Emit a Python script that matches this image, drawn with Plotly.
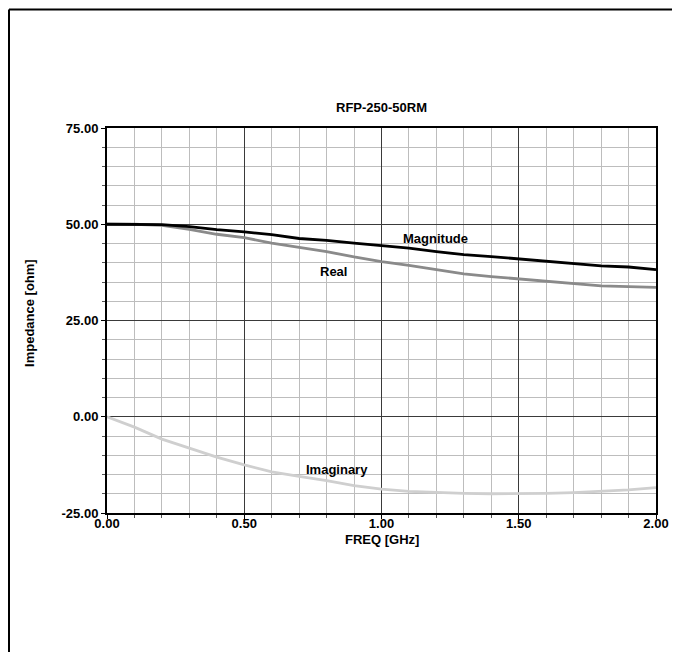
import plotly.graph_objects as go

freq_ghz = [0.0, 0.1, 0.2, 0.3, 0.4, 0.5, 0.6, 0.7, 0.8, 0.9, 1.0,
            1.1, 1.2, 1.3, 1.4, 1.5, 1.6, 1.7, 1.8, 1.9, 2.0]
magnitude = [50.0, 50.0, 49.9, 49.4, 48.6, 48.0, 47.3, 46.3, 45.8, 45.1, 44.5,
             43.8, 42.9, 42.1, 41.6, 41.0, 40.3, 39.7, 39.2, 38.9, 38.2]
real = [50.0, 50.0, 49.7, 48.7, 47.4, 46.5, 45.1, 44.0, 42.9, 41.5, 40.3,
        39.3, 38.2, 37.1, 36.4, 35.8, 35.1, 34.5, 34.0, 33.8, 33.6]
imaginary = [0.0, -2.7, -5.8, -8.1, -10.5, -12.5, -14.3, -15.5, -16.6, -17.9, -18.8,
             -19.4, -19.7, -19.9, -20.0, -20.0, -19.9, -19.7, -19.4, -19.0, -18.4]

x_ticks = [0.0, 0.5, 1.0, 1.5, 2.0]
y_ticks = [-25, 0, 25, 50, 75]

FONT = "Liberation Sans, Arial, sans-serif"
FS = 13

fig = go.Figure()
fig.add_trace(go.Scatter(x=freq_ghz, y=imaginary, mode="lines",
                         line=dict(color="#cfcfcf", width=2.8), name="Imaginary"))
fig.add_trace(go.Scatter(x=freq_ghz, y=real, mode="lines",
                         line=dict(color="#8a8a8a", width=2.8), name="Real"))
fig.add_trace(go.Scatter(x=freq_ghz, y=magnitude, mode="lines",
                         line=dict(color="#000000", width=2.8), name="Magnitude"))

axis_common = dict(
    showgrid=True, gridcolor="#3a3a3a", gridwidth=1,
    showline=True, linecolor="#000000", linewidth=2, mirror=True,
    ticks="outside", ticklen=4, tickcolor="#000000",
    zeroline=False,
    tickfont=dict(family=FONT, size=FS, color="#000000"),
    minor=dict(showgrid=True, gridcolor="#bdbdbd", gridwidth=1,
               ticks="outside", ticklen=3, tickcolor="#555555"),
)

fig.update_xaxes(range=[0, 2], tickvals=x_ticks,
                 ticktext=[f"<b>{v:.2f}</b>" for v in x_ticks],
                 ticklabelstandoff=-7,
                 **{**axis_common, "minor": {**axis_common["minor"], "dtick": 0.1}})
fig.update_yaxes(range=[-25, 75], tickvals=y_ticks,
                 ticktext=[f"<b>{v:.2f}</b>" for v in y_ticks],
                 **{**axis_common, "minor": {**axis_common["minor"], "dtick": 5}})

annots = [
    dict(text="<b>RFP-250-50RM</b>", x=0.5, y=1.052, xref="paper", yref="paper"),
    dict(text="<b>FREQ [GHz]</b>", x=0.5, y=-0.07, xref="paper", yref="paper"),
    dict(text="<b>Impedance [ohm]</b>", x=-0.14, y=0.52, xref="paper", yref="paper",
         textangle=-90),
    dict(text="<b>Magnitude</b>", x=1.195, y=46.2),
    dict(text="<b>Real</b>", x=0.825, y=37.7),
    dict(text="<b>Imaginary</b>", x=0.838, y=-13.6),
]
for a in annots:
    a["showarrow"] = False
    a["xanchor"] = "center"
    a["yanchor"] = "middle"
    a["font"] = dict(family=FONT, size=FS, color="#000000")
fig.update_layout(annotations=annots)

# outer frame (left and top edges visible in the reference), kept inside the figure
fig.add_shape(type="line", xref="paper", yref="paper",
              x0=-0.1785, x1=-0.1785, y0=-0.5, y1=1.3078,
              line=dict(color="#000000", width=2))
fig.add_shape(type="line", xref="paper", yref="paper",
              x0=-0.1785, x1=1.1, y0=1.3078, y1=1.3078,
              line=dict(color="#000000", width=2))

fig.update_layout(
    width=680, height=652,
    margin=dict(l=99, r=32, t=120, b=147),
    paper_bgcolor="#ffffff", plot_bgcolor="#ffffff",
    showlegend=False,
    font=dict(family=FONT, size=FS, color="#000000"),
)

fig.write_html("out.html")
